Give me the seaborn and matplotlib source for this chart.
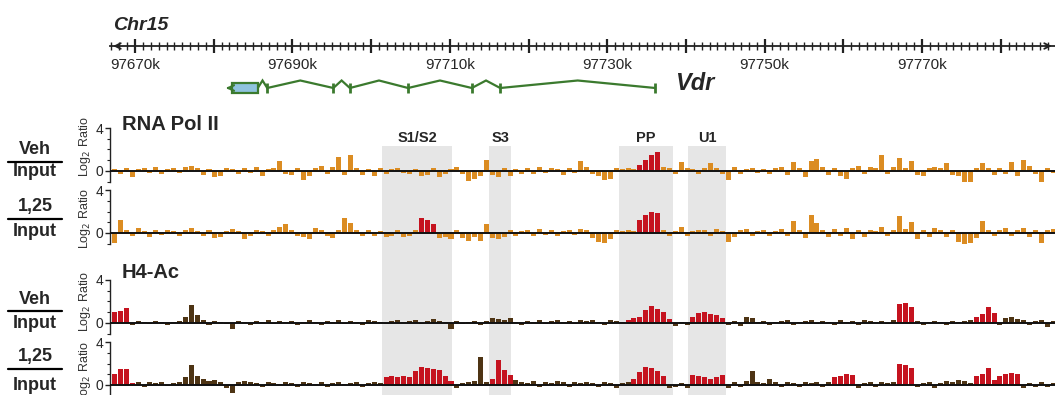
import numpy as np
import pandas as pd
import matplotlib
matplotlib.use("Agg")
import matplotlib.pyplot as plt
from matplotlib.lines import Line2D
from matplotlib.patches import Rectangle
from matplotlib.ticker import MultipleLocator, FuncFormatter
import seaborn as sns

# ---- data (kb on Chr15) ----
BIN_START = 97667.4
BIN_STEP = 0.75
N_BINS = 160

pol2_veh = [
    0.2, -0.3, 0.3, -0.6, 0.2, 0.3, -0.2, 0.4, -0.3, 0.2,
    0.3, -0.2, 0.4, 0.5, 0.3, -0.4, 0.2, -0.6, -0.5, 0.3,
    0.2, -0.3, 0.3, -0.2, 0.4, -0.5, 0.2, 0.3, 0.9, -0.3,
    -0.4, 0.3, -0.8, -0.5, 0.3, 0.5, -0.3, 0.4, 1.3, -0.4,
    1.5, 0.3, -0.4, 0.2, -0.5, 0.3, -0.3, 0.2, 0.3, -0.2,
    -0.3, 0.2, -0.5, -0.4, 0.3, -0.6, -0.3, 0.2, 0.4, -0.3,
    -0.9, -0.7, -0.5, 1.0, -0.4, -0.6, 0.3, -0.5, 0.2, -0.3,
    0.3, -0.3, 0.4, -0.2, 0.3, 0.2, -0.4, 0.3, -0.2, 0.9,
    0.4, -0.3, -0.5, -0.8, -0.7, 0.3, 0.2, 0.3, 0.2, 0.6,
    1.0, 1.5, 1.8, 0.4, 0.3, -0.3, 0.8, 0.3, 0.2, -0.3,
    0.3, 0.7, 0.3, -0.3, -0.8, 0.4, -0.3, 0.2, 0.3, -0.2,
    0.2, -0.3, 0.3, 0.4, -0.4, 0.8, 0.3, -0.6, 0.9, 1.1,
    0.4, -0.4, 0.3, -0.5, -0.7, 0.3, 0.5, -0.3, 0.4, 0.3,
    1.5, -0.3, 0.4, 1.2, 0.3, 0.9, -0.4, -0.5, 0.3, 0.4,
    0.3, 0.7, -0.4, -0.5, -1.0, -1.0, 0.3, 0.7, 0.3, -0.4,
    0.3, -0.3, 0.8, -0.5, 1.0, 0.5, -0.3, -1.0, 0.3, -0.2,
]
pol2_vd = [
    -0.9, 1.2, 0.3, -0.3, 0.5, 0.2, -0.4, 0.3, -0.2, 0.3,
    0.2, -0.3, 0.3, 0.5, 0.2, -0.3, 0.3, -0.5, -0.4, 0.2,
    0.4, 0.2, -0.6, -0.3, 0.3, 0.2, -0.3, 0.3, 0.6, 0.8,
    0.3, -0.3, -0.4, -0.6, 0.5, 0.3, -0.3, -0.5, 0.3, 1.4,
    0.9, 0.3, -0.3, 0.3, -0.3, 0.2, -0.4, -0.3, 0.3, -0.4,
    -0.3, 0.3, 1.4, 1.2, 0.8, -0.5, -0.4, -0.6, 0.3, -0.5,
    -0.7, -0.4, -0.7, 0.8, -0.5, -0.6, -0.4, 0.3, -0.3, 0.2,
    0.3, -0.3, 0.4, -0.2, 0.3, -0.3, 0.2, 0.3, -0.2, 0.4,
    0.3, -0.5, -0.8, -0.9, -0.6, 0.3, 0.2, 0.3, 0.2, 1.2,
    1.7, 2.0, 1.9, 0.3, -0.3, 0.2, 0.6, -0.3, 0.2, 0.3,
    0.3, -0.3, 0.4, 0.2, -0.8, -0.4, 0.3, 0.4, -0.3, 0.2,
    0.3, -0.3, 0.2, 0.4, -0.3, 1.1, 0.3, -0.5, 1.7, 0.9,
    0.3, -0.4, 0.4, -0.3, 0.5, -0.6, 0.3, -0.4, 0.3, 0.2,
    0.6, -0.3, 0.3, 1.6, 0.4, 1.0, -0.6, 0.3, -0.4, 0.5,
    0.3, -0.4, 0.3, -0.8, -1.0, -0.9, -0.5, 1.1, 0.3, -0.3,
    0.3, 0.5, -0.3, 0.3, 0.5, -0.4, 0.3, -0.9, 0.3, 0.4,
]
h4_veh = [
    1.0, 1.1, 1.4, -0.2, 0.2, 0.1, -0.1, 0.2, 0.1, -0.2,
    0.1, 0.2, 0.6, 1.7, 0.7, 0.3, -0.2, 0.2, 0.1, -0.1,
    -0.6, 0.2, 0.1, -0.2, 0.2, 0.1, 0.3, -0.1, 0.2, 0.1,
    0.2, -0.2, 0.1, 0.3, 0.1, -0.2, 0.2, 0.1, 0.3, -0.1,
    0.2, 0.1, -0.2, 0.3, 0.2, 0.1, -0.1, 0.2, 0.3, 0.1,
    0.2, 0.3, -0.1, 0.2, 0.4, 0.2, 0.1, -0.6, 0.2, -0.1,
    0.1, 0.2, -0.2, 0.2, 0.5, 0.4, 0.3, 0.5, 0.1, -0.2,
    0.2, 0.1, 0.3, -0.1, 0.2, 0.3, 0.1, 0.2, -0.1, 0.3,
    0.2, 0.3, 0.1, -0.2, 0.3, 0.2, 0.1, 0.3, 0.5, 0.6,
    1.2, 1.6, 1.3, 1.0, 0.4, -0.3, 0.1, -0.2, 0.6, 0.9,
    1.0, 0.8, 0.7, 0.5, -0.2, 0.2, -0.3, 0.6, 0.5, 0.1,
    0.2, -0.2, 0.1, 0.2, 0.3, -0.2, 0.1, 0.2, 0.3, -0.1,
    0.2, 0.1, -0.2, 0.3, 0.1, 0.2, -0.2, 0.3, 0.2, 0.1,
    0.2, -0.1, 0.3, 1.8, 1.9, 1.5, 0.2, -0.2, 0.1, 0.2,
    0.1, -0.2, 0.2, 0.1, 0.2, 0.3, 0.6, 0.8, 1.5, 0.9,
    -0.2, 0.5, 0.6, 0.4, 0.3, -0.2, 0.2, 0.3, -0.4, 0.2,
]
h4_vd = [
    1.0, 1.5, 1.5, 0.2, 0.3, -0.2, 0.3, 0.2, 0.3, -0.1,
    0.2, 0.3, 0.7, 1.9, 0.8, 0.6, 0.4, 0.5, 0.3, -0.3,
    -0.7, 0.3, 0.4, 0.3, 0.2, -0.2, 0.3, 0.2, 0.1, 0.3,
    0.2, -0.2, 0.3, 0.2, 0.1, 0.3, -0.2, 0.2, 0.3, 0.1,
    0.2, 0.3, -0.2, 0.2, 0.3, 0.2, 0.7, 0.8, 0.7, 0.8,
    0.7, 1.3, 1.7, 1.6, 1.5, 1.4, 0.8, 0.4, -0.3, 0.2,
    0.3, 0.4, 2.6, 0.3, 0.6, 2.3, 1.4, 0.9, 0.5, 0.3,
    0.2, 0.4, -0.2, 0.3, 0.2, 0.4, 0.3, -0.2, 0.3, 0.2,
    0.3, 0.2, -0.2, 0.3, 0.2, -0.3, 0.2, 0.3, 0.6, 1.2,
    1.7, 1.6, 1.3, 0.8, -0.3, -0.2, 0.2, -0.3, 0.9, 0.8,
    0.7, 0.6, 0.7, 0.9, -0.3, 0.3, -0.2, 0.4, 1.3, 0.3,
    0.2, 0.6, 0.3, -0.2, 0.3, 0.2, -0.2, 0.3, 0.2, 0.3,
    -0.2, 0.3, 0.7, 0.8, 1.0, 0.9, -0.3, 0.2, 0.3, -0.2,
    0.3, 0.2, 0.3, 2.0, 1.9, 1.6, -0.2, 0.2, 0.3, -0.3,
    0.2, 0.4, 0.3, 0.5, 0.4, 0.2, 0.8, 1.0, 1.6, 0.5,
    0.8, 1.0, 1.1, 1.0, -0.3, 0.2, -0.2, 0.3, -0.2, 0.2,
]

# called peaks (kb ranges) drawn in red
peaks_pol2_veh = [(97733.7, 97736.8)]
peaks_pol2_vd = [(97706.0, 97708.3), (97733.7, 97736.8)]
peaks_h4_veh = [(97667.0, 97669.2), (97732.3, 97738.3), (97740.5, 97745.0),
                (97766.8, 97769.0), (97776.5, 97779.5)]
peaks_h4_vd = [(97667.0, 97669.8), (97701.5, 97710.5), (97715.0, 97718.0),
               (97733.0, 97737.5), (97740.5, 97745.0), (97758.5, 97761.5),
               (97766.8, 97769.0), (97776.5, 97782.5)]

regions = ["S1/S2", "S3", "PP", "U1"]
region_start = [97701.4, 97715.0, 97731.5, 97740.3]
region_end = [97710.3, 97717.8, 97738.4, 97745.1]

# Vdr gene model (minus strand)
gene_tip = 97681.2
utr_box = (97682.3, 97685.6)
exon_marks = [97686.8, 97695.2, 97697.3, 97704.7, 97712.8, 97716.4, 97736.1]

XLIM = (97666.82, 97786.9)

ORANGE = "#db8c22"
RED = "#c5131f"
BROWN = "#4e3414"
GREEN = "#3b7a2e"
SHADE = "#e6e6e6"

sns.set_style("white")
plt.rcParams["font.family"] = ["Liberation Sans", "DejaVu Sans"]

W, H = 1055, 395
fig = plt.figure(figsize=(W / 100, H / 100), dpi=100)


def px_box(x0, y0, x1, y1):
    return [x0 / W, 1 - y1 / H, (x1 - x0) / W, (y1 - y0) / H]


# ---- shaded enhancer regions ----
bg = fig.add_axes(px_box(110, 146, 1055, 395))
bg.set_xlim(XLIM)
bg.set_ylim(0, 1)
bg.axis("off")
for name, a, b in zip(regions, region_start, region_end):
    bg.axvspan(a, b, color=SHADE, lw=0)
    bg.text((a + b) / 2, 1 + 8 / 249, name, ha="center", va="center",
            fontsize=10.5, fontweight="bold", transform=bg.get_xaxis_transform())

# ---- chromosome ruler + gene ----
top = fig.add_axes(px_box(110, 0, 1055, 110))
top.set_xlim(XLIM)
top.set_ylim(110, 0)
top.patch.set_alpha(0)
for s in ["top", "left", "right"]:
    top.spines[s].set_visible(False)
top.spines["bottom"].set_position(("data", 46))
top.spines["bottom"].set_linewidth(1.3)
top.spines["bottom"].set_color("#222222")
top.set_yticks([])
top.xaxis.set_major_locator(MultipleLocator(10))
top.xaxis.set_minor_locator(MultipleLocator(1))
top.xaxis.set_major_formatter(FuncFormatter(
    lambda v, p: f"{v:.0f}k" if round(v - 97670) % 20 == 0 else ""))
top.tick_params(axis="x", which="major", bottom=True, direction="inout",
                length=10, width=1.6, color="#222222", labelsize=11, pad=3.5)
top.tick_params(axis="x", which="minor", bottom=True, direction="inout",
                length=6, width=1, color="#222222")
top.annotate("", xy=(XLIM[0] + 0.05, 46), xytext=(XLIM[0] + 1.5, 46),
             arrowprops=dict(arrowstyle="->", lw=1.3, color="#222222"),
             annotation_clip=False)
top.annotate("", xy=(XLIM[1] - 0.05, 46), xytext=(XLIM[1] - 1.5, 46),
             arrowprops=dict(arrowstyle="->", lw=1.3, color="#222222"),
             annotation_clip=False)
top.text(97667.2, 25, "Chr15", fontsize=14, fontweight="bold",
         fontstyle="italic", ha="left", va="center")

gy = 88
nodes = [utr_box[1]] + exon_marks
gx, gys = [nodes[0]], [gy]
for a, b in zip(nodes[:-1], nodes[1:]):
    gx += [(a + b) / 2, b]
    gys += [gy - 7.5, gy]
top.plot(gx, gys, color=GREEN, lw=1.6, solid_joinstyle="miter")
top.vlines(exon_marks, gy - 5, gy + 5, color=GREEN, lw=2)
top.add_patch(Rectangle((utr_box[0], gy - 5), utr_box[1] - utr_box[0], 10,
                        facecolor="#8fc3de", edgecolor=GREEN, lw=1.6, zorder=3))
top.annotate("", xy=(gene_tip, gy), xytext=(utr_box[0], gy),
             arrowprops=dict(arrowstyle="->", lw=1.6, color=GREEN))
top.text(97738.6, 84, "Vdr", fontsize=17, fontweight="bold",
         fontstyle="italic", ha="left", va="center")

# ---- signal tracks ----
pos = BIN_START + BIN_STEP * np.arange(N_BINS)
# values, peaks, colour, baseline px, label, label y, rule y, Input y, ylabel offset
tracks = [
    (pol2_veh, peaks_pol2_veh, ORANGE, 171, "Veh", 149, 162, 172, 25),
    (pol2_vd, peaks_pol2_vd, ORANGE, 233, "1,25", 206, 219, 232, 15),
    (h4_veh, peaks_h4_veh, BROWN, 323, "Veh", 300, 311, 324, 22),
    (h4_vd, peaks_h4_vd, BROWN, 385, "1,25", 357, 369, 385, 14),
]
UNIT = 10.75
YLIM = (-1.2, 4.3)

for vals, peaks, col, base, lab, ylab, yline, yinp, yoff in tracks:
    ax = fig.add_axes(px_box(110, base - YLIM[1] * UNIT, 1055, base - YLIM[0] * UNIT))
    df = pd.DataFrame({"pos": pos, "val": vals})
    df["kind"] = ["peak" if any(a <= p <= b for a, b in peaks) else "bg"
                  for p in df["pos"]]
    sns.barplot(data=df, x="pos", y="val", hue="kind", hue_order=["bg", "peak"],
                palette={"bg": col, "peak": RED}, native_scale=True, dodge=False,
                errorbar=None, width=0.85, saturation=1, linewidth=0,
                legend=False, ax=ax)
    ax.set_facecolor("none")
    ax.set_xlim(XLIM)
    ax.set_ylim(YLIM)
    ax.axhline(0, color="#111111", lw=1.4, zorder=5)
    for s in ["top", "right", "bottom"]:
        ax.spines[s].set_visible(False)
    ax.spines["left"].set_bounds(-1, 4)
    ax.spines["left"].set_linewidth(1)
    ax.spines["left"].set_color("#222222")
    ax.set_xticks([])
    ax.set_xlabel("")
    ax.set_yticks([0, 4])
    ax.set_yticks([-1, 1, 2, 3], minor=True)
    ax.tick_params(axis="y", which="major", left=True, length=3.5, width=1,
                   labelsize=10, pad=1.5, color="#222222")
    ax.tick_params(axis="y", which="minor", left=True, length=2, width=0.8,
                   color="#222222")
    ax.set_ylabel("Log$_2$ Ratio", fontsize=9, color="#333333")
    ax.yaxis.set_label_coords(-17 / 945, (yoff / UNIT - YLIM[0]) / (YLIM[1] - YLIM[0]))

    fig.text(35 / W, 1 - ylab / H, lab, ha="center", va="center",
             fontsize=13, fontweight="bold")
    fig.text(35 / W, 1 - yinp / H, "Input", ha="center", va="center",
             fontsize=13, fontweight="bold")
    fig.add_artist(Line2D([8 / W, 62 / W], [1 - yline / H] * 2,
                          color="black", lw=1.6))

fig.text(122 / W, 1 - 124 / H, "RNA Pol II", ha="left", va="center",
         fontsize=14.5, fontweight="bold")
fig.text(122 / W, 1 - 273 / H, "H4-Ac", ha="left", va="center",
         fontsize=14.5, fontweight="bold")

fig.savefig("out.png", dpi=100)
